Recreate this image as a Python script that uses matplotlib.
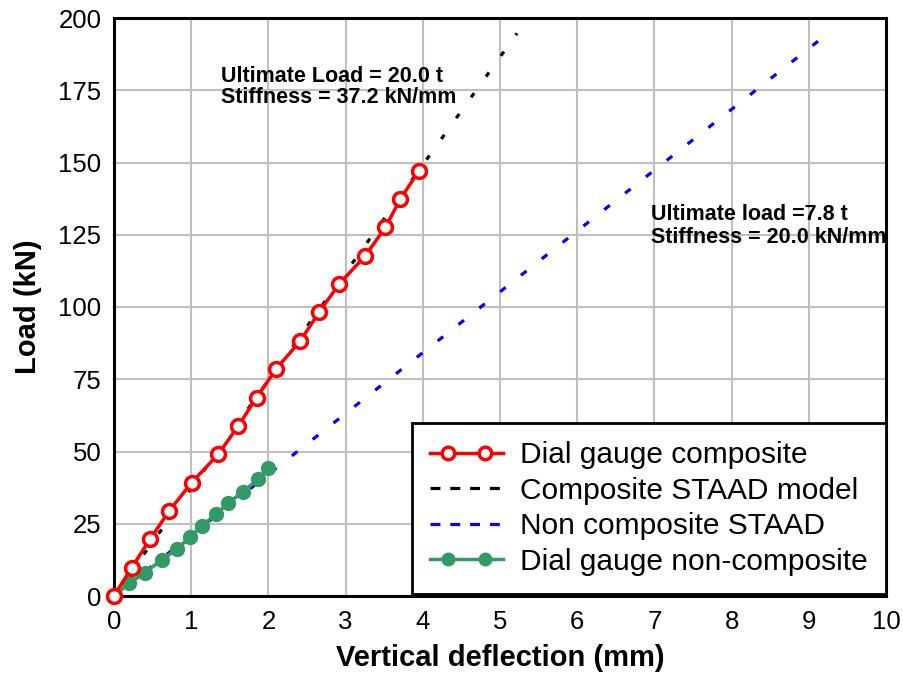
import matplotlib
matplotlib.use("Agg")
import matplotlib.pyplot as plt
from matplotlib.lines import Line2D
from matplotlib.legend_handler import HandlerLine2D, HandlerTuple

plt.rcParams['font.family'] = ['Liberation Sans', 'DejaVu Sans']

# dial gauge readings, composite beam (load steps of 1 t)
comp_defl = [0, 0.229, 0.466, 0.716, 1.006, 1.351, 1.610, 1.848, 2.098,
             2.413, 2.655, 2.915, 3.255, 3.514, 3.709, 3.951]
comp_load = [0, 9.81, 19.62, 29.43, 39.24, 49.05, 58.86, 68.67, 78.48,
             88.29, 98.10, 107.91, 117.72, 127.53, 137.34, 147.15]

# dial gauge readings, non-composite beam
noncomp_defl = [0, 0.198, 0.402, 0.618, 0.812, 0.984, 1.136, 1.321, 1.481,
                1.667, 1.869, 1.999]
noncomp_load = [0, 4.4, 8.1, 12.5, 16.2, 20.3, 24.3, 28.3, 32.1, 36.1, 40.4, 44.2]

# STAAD models (linear)
staad_comp_defl = [0, 5.22]
staad_comp_load = [0, 194.7]
staad_noncomp_defl = [0, 9.14]
staad_noncomp_load = [0, 192.4]

red = '#FF0000'
green = '#339966'
blue = '#0000FF'

fig = plt.figure(figsize=(9.04, 6.75), dpi=100)
ax = fig.add_axes([114/904, 1-596/675, (886-114)/904, (596-18)/675])

ax.plot(staad_comp_defl, staad_comp_load, color='black', lw=2.3,
        linestyle=(0, (1.6, 6.4)), zorder=2)
ax.plot(staad_noncomp_defl, staad_noncomp_load, color=blue, lw=2.3,
        linestyle=(3.8, (2.2, 6.1)), zorder=2)
ax.plot(noncomp_defl, noncomp_load, color=green, lw=2.5, marker='o',
        ms=10, mfc=green, mec=green, zorder=3, clip_on=False)
ax.plot(comp_defl, comp_load, color=red, lw=2.5, marker='o', ms=10,
        mfc='white', mec=red, mew=2.5, zorder=4, clip_on=False)

ax.set_xlim(0, 10)
ax.set_ylim(0, 200)
ax.set_xticks(range(0, 11))
ax.set_yticks(range(0, 201, 25))
ax.grid(True, color='#BFBFBF', lw=1.5)
ax.set_axisbelow(True)
ax.tick_params(length=0, labelsize=18.5)
ax.tick_params(axis='y', pad=9)
ax.tick_params(axis='x', pad=10)
for s in ax.spines.values():
    s.set_linewidth(2.2)
    s.set_color('black')

ax.set_xlabel('Vertical deflection (mm)', fontsize=21, fontweight='bold', labelpad=7)
ax.set_ylabel('Load (kN)', fontsize=21, fontweight='bold', labelpad=12)

ax.text(1.386, 178, 'Ultimate Load = 20.0 t', fontsize=15.5, fontweight='bold', va='baseline')
ax.text(1.386, 170.6, 'Stiffness = 37.2 kN/mm', fontsize=15.5, fontweight='bold', va='baseline')
ax.text(6.95, 130.1, 'Ultimate load =7.8 t', fontsize=15.5, fontweight='bold', va='baseline')
ax.text(6.95, 122.0, 'Stiffness = 20.0 kN/mm', fontsize=15.5, fontweight='bold', va='baseline')

# legend handles: full-width line plus two inset markers
red_line = Line2D([], [], color=red, lw=2.5)
red_mk = Line2D([], [], ls='none', marker='o', ms=9, mfc='white', mec=red, mew=2.5)
green_line = Line2D([], [], color=green, lw=2.5)
green_mk = Line2D([], [], ls='none', marker='o', ms=9, mfc=green, mec=green)
black_h = Line2D([], [], color='black', lw=2.3, linestyle=(0, (3.1, 3.1)))
blue_h = Line2D([], [], color=blue, lw=2.3, linestyle=(0, (3.1, 3.1)))

handles = [(red_line, red_mk), black_h, blue_h, (green_line, green_mk)]
labels = ['Dial gauge composite', 'Composite STAAD model',
          'Non composite STAAD', 'Dial gauge non-composite']
hmap = {Line2D: HandlerLine2D(marker_pad=0),
        red_mk: HandlerLine2D(marker_pad=0.6),
        green_mk: HandlerLine2D(marker_pad=0.6),
        tuple: HandlerTuple(ndivide=1)}
leg = ax.legend(handles, labels, loc='lower right', bbox_to_anchor=(1.0, 0.004),
                borderaxespad=0, fontsize=21.5, numpoints=2, handlelength=2.45,
                handletextpad=0.57, labelspacing=0.25, borderpad=0.6,
                fancybox=False, framealpha=1, edgecolor='black',
                handler_map=hmap)
leg.get_frame().set_linewidth(2.0)
leg.set_zorder(5)

fig.savefig('out.png', dpi=100)
